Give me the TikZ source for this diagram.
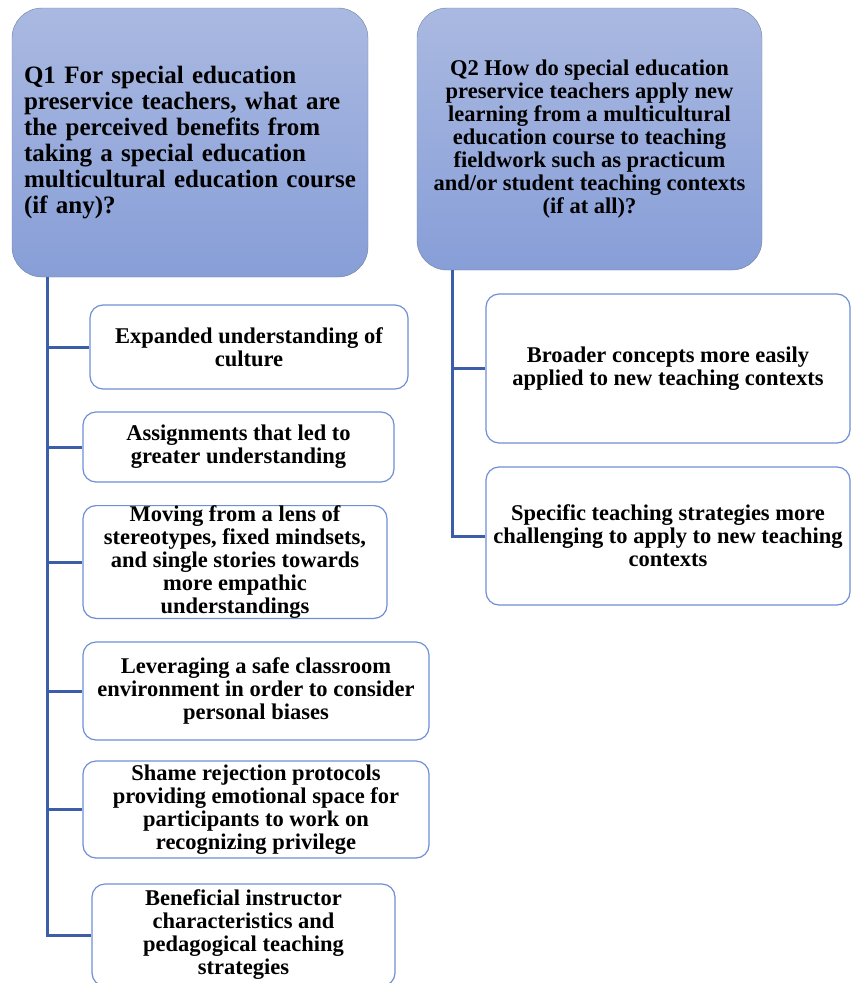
\documentclass[tikz,border=0pt]{standalone}
\usepackage{fontspec}
\setmainfont{Liberation Serif}
\definecolor{my line}{HTML}{3C5DA8}
\definecolor{my edge}{HTML}{6E8FD6}
\definecolor{my top}{HTML}{AAB9E1}
\definecolor{my bottom}{HTML}{879ED7}
\definecolor{my frame}{HTML}{6F7FA6}
\tikzset{
    question/.style = {draw = my frame, top color = my top, bottom color = my bottom, rounded corners = 30pt, inner sep = 0pt},
    finding/.style = {draw = my edge, fill = white, line width = 1.2pt, rounded corners = 13pt, inner sep = 0pt, align = center, font = \fontsize{22.5}{23}\selectfont\bfseries},
    branch/.style = {my line, line width = 3pt}
}

\begin{document}
\begin{tikzpicture}[x = 1pt, y = -1pt]
            \useasboundingbox (0, 0) rectangle (851, 983);
            % research questions
            \node [question, minimum width = 356pt, minimum height = 269pt, text width = 332pt, align = left, font = \fontsize{25}{26}\selectfont\bfseries] (q1) at (190, 142.5) {Q1 For special education\\ preservice teachers, what are\\ the perceived benefits from\\ taking a special education\\ multicultural education course\\ (if any)?};
            \node [question, minimum width = 345pt, minimum height = 262pt, align = center, font = \fontsize{22.5}{23}\selectfont\bfseries] (q2) at (589.5, 139) {Q2 How do special education\\ preservice teachers apply new\\ learning from a multicultural\\ education course to teaching\\ fieldwork such as practicum\\ and/or student teaching contexts\\ (if at all)?};
            % findings for Q1
            \node [finding, minimum width = 318pt, minimum height = 84pt] (q1a) at (249, 347) {Expanded understanding of\\ culture};
            \node [finding, minimum width = 311pt, minimum height = 70pt] (q1b) at (238.5, 447) {Assignments that led to\\ greater understanding};
            \node [finding, minimum width = 304pt, minimum height = 110pt] (q1c) at (235, 562) {Moving from a lens of\\ stereotypes, fixed mindsets,\\ and single stories towards\\ more empathic\\ understandings};
            \node [finding, minimum width = 346pt, minimum height = 98pt] (q1d) at (256, 691) {Leveraging a safe classroom\\ environment in order to consider\\ personal biases};
            \node [finding, minimum width = 346pt, minimum height = 97pt] (q1e) at (256, 809.5) {Shame rejection protocols\\ providing emotional space for\\ participants to work on\\ recognizing privilege};
            \node [finding, minimum width = 303pt, minimum height = 102pt] (q1f) at (243.5, 935) {Beneficial instructor\\ characteristics and\\ pedagogical teaching\\ strategies};
            % findings for Q2
            \node [finding, minimum width = 364pt, minimum height = 149pt] (q2a) at (668, 368.5) {Broader concepts more easily\\ applied to new teaching contexts};
            \node [finding, minimum width = 364pt, minimum height = 138pt] (q2b) at (668, 536) {Specific teaching strategies more\\ challenging to apply to new teaching\\ contexts};
            % connectors
            \foreach \n in {a, b, c, d, e, f}
                \draw [branch] ([xshift = 36pt]q1.south west) |- (q1\n.west);
            \foreach \n in {a, b}
                \draw [branch] ([xshift = 36pt]q2.south west) |- (q2\n.west);
        \end{tikzpicture}
\end{document}
